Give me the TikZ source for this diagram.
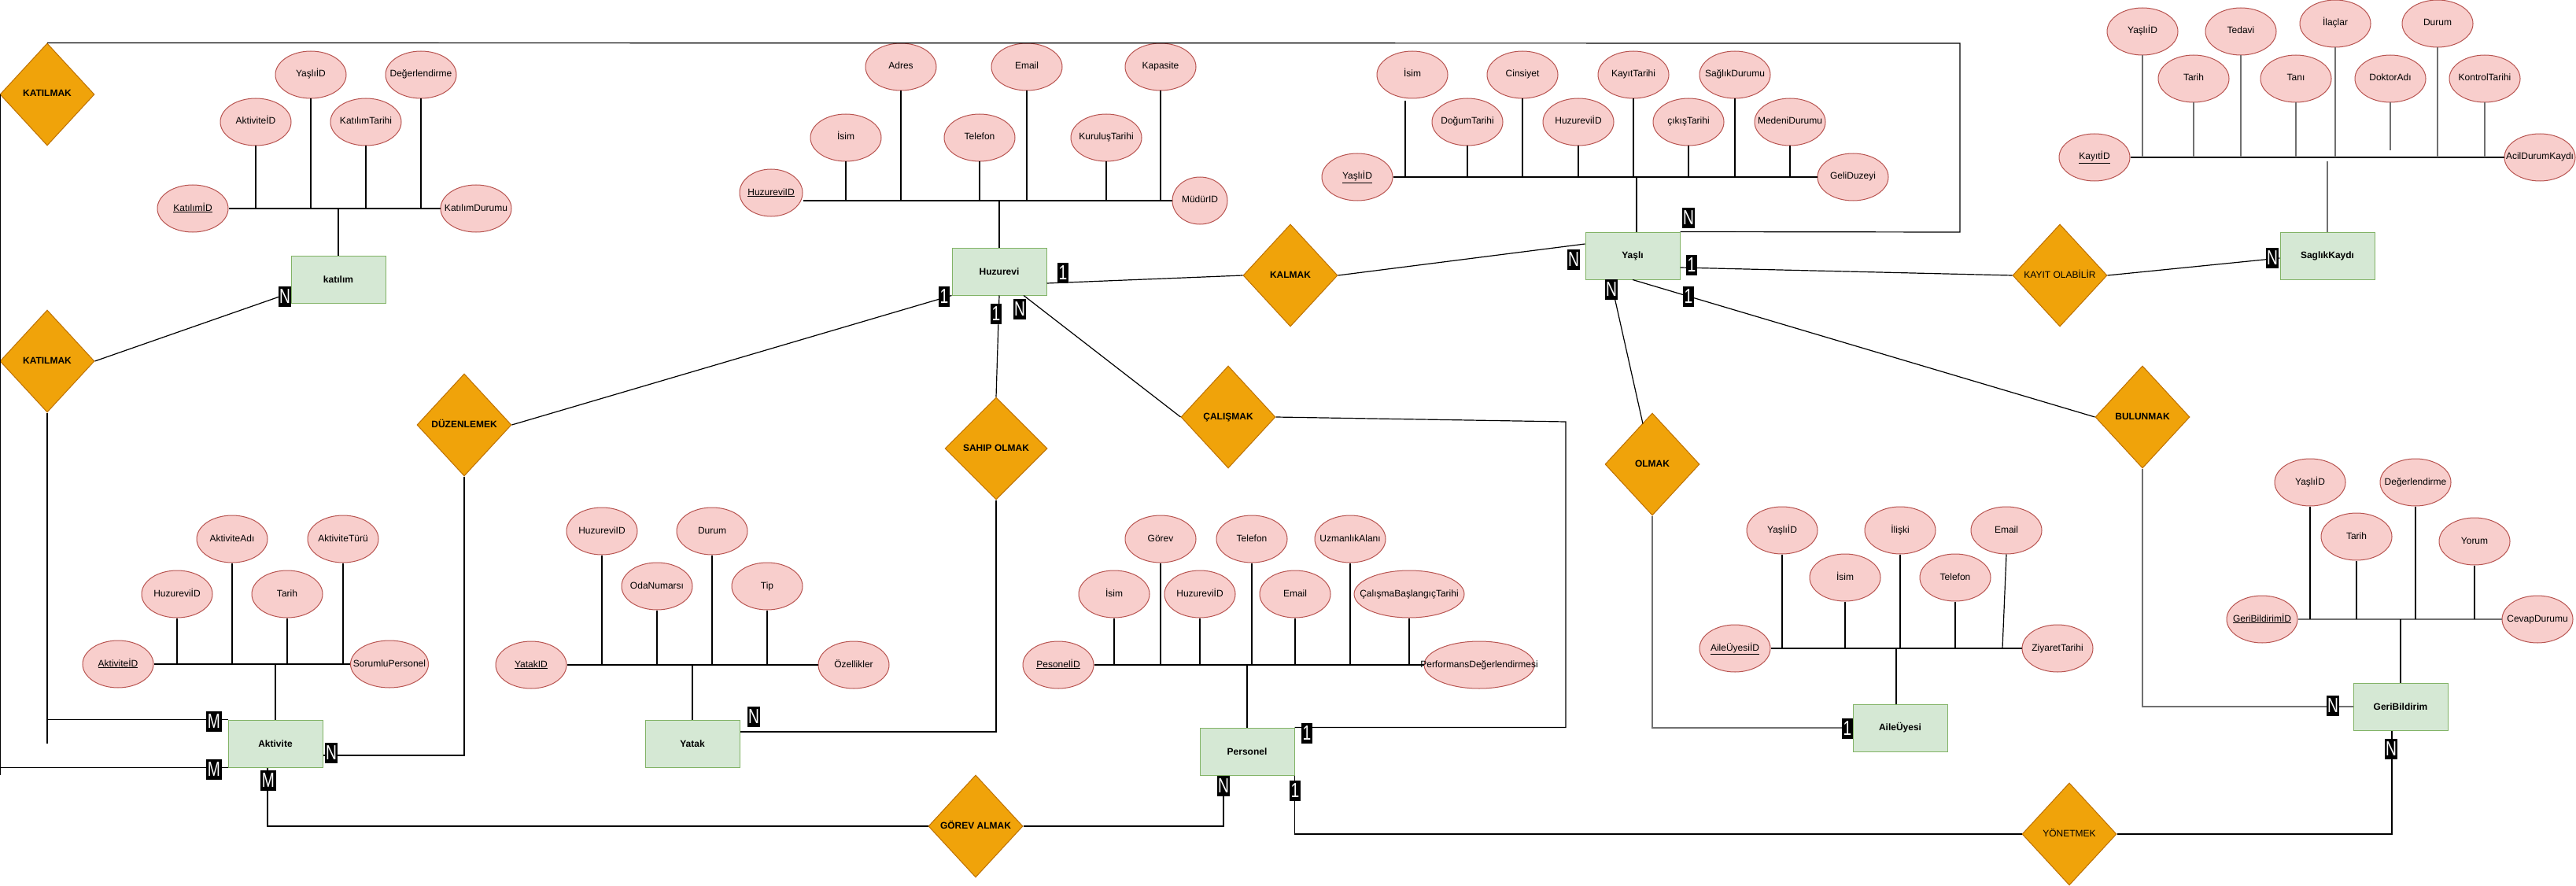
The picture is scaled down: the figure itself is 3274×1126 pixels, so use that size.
\documentclass[tikz,border=0pt]{standalone}
\usepackage{fontspec}
\setmainfont{Liberation Sans}
\usepackage{graphicx}
\usetikzlibrary{shapes.geometric,calc}
\definecolor{entF}{HTML}{D5E8D4}\definecolor{entB}{HTML}{82B366}
\definecolor{attF}{HTML}{F8CECC}\definecolor{attB}{HTML}{B85450}
\definecolor{relF}{HTML}{F0A30A}\definecolor{relB}{HTML}{BD7000}
\definecolor{lnGray}{HTML}{707070}
\newcommand{\attxt}[1]{\makebox[0pt]{#1}}
\newcommand{\cardtxt}[1]{\scalebox{0.74}[1]{#1}}
\tikzset{
  ent/.style={draw=entB, fill=entF, line width=1pt, minimum width=120pt, minimum height=60pt,
    inner sep=0pt, font=\bfseries\fontsize{12}{14}\selectfont},
  attr/.style={ellipse, draw=attB, fill=attF, line width=1pt, minimum width=90pt, minimum height=60pt,
    inner sep=0pt, font=\fontsize{12}{14}\selectfont, text height=8.5pt, text depth=2.5pt},
  rel/.style={diamond, draw=relB, fill=relF, line width=1pt, minimum width=120pt, minimum height=130pt,
    inner sep=0pt, font=\bfseries\fontsize{12}{14}\selectfont, text height=8.5pt, text depth=2.5pt},
  relplain/.style={rel, font=\fontsize{12}{14}\selectfont},
  card/.style={fill=black, text=white, inner xsep=1.5pt, inner ysep=4.5pt, font=\fontsize{26}{26}\selectfont},
  ln/.style={line width=1.2pt, black},
  lng/.style={line width=1.2pt, lnGray},
}
\begin{document}
\begin{tikzpicture}[x=1pt, y=-1pt]
\fill[white] (0,0) rectangle (3274,1126);
\useasboundingbox (0,0) rectangle (3274,1126);

% ---------- entities ----------
\node[ent] (katilim) at (430,355) {katılım};
\node[ent] (huz) at (1270,345) {Huzurevi};
\node[ent] (yasli) at (2075,325) {Yaşlı};
\node[ent] (saglik) at (2958,325) {SaglıkKaydı};
\node[ent] (akt) at (350,945) {Aktivite};
\node[ent] (yatak) at (880,945) {Yatak};
\node[ent] (pers) at (1585,955) {Personel};
\node[ent] (aile) at (2415,925) {AileÜyesi};
\node[ent] (geri) at (3051,898) {GeriBildirim};

% ---------- relationships ----------
\node[rel] (r_kat1) at (60,120) {\attxt{KATILMAK}};
\node[rel] (r_kat2) at (60,459) {\attxt{KATILMAK}};
\node[rel] (r_duz) at (590,540) {\attxt{DÜZENLEMEK}};
\node[rel, minimum width=130pt] (r_sahip) at (1266,570) {\attxt{SAHIP OLMAK}};
\node[rel] (r_kal) at (1640,350) {\attxt{KALMAK}};
\node[rel] (r_cal) at (1561,530) {\attxt{ÇALIŞMAK}};
\node[rel] (r_gor) at (1240,1050) {\attxt{GÖREV ALMAK}};
\node[rel] (r_olm) at (2100,590) {\attxt{OLMAK}};
\node[relplain] (r_kay) at (2618,350) {\attxt{KAYIT OLABİLİR}};
\node[rel] (r_bul) at (2723,530) {\attxt{BULUNMAK}};
\node[relplain] (r_yon) at (2630,1060) {\attxt{YÖNETMEK}};

% ---------- katılım attributes ----------
\node[attr] (k_id) at (245,265) {\attxt{\underline{KatılımİD}}};
\node[attr] (k_akt) at (325,155) {\attxt{AktiviteİD}};
\node[attr] (k_yas) at (395,95) {\attxt{YaşlıİD}};
\node[attr] (k_tar) at (465,155) {\attxt{KatılımTarihi}};
\node[attr] (k_deg) at (535,95) {\attxt{Değerlendirme}};
\node[attr] (k_dur) at (605,265) {\attxt{KatılımDurumu}};
\draw[ln] (k_id.east) -- (k_dur.west);
\foreach \a in {k_akt,k_yas,k_tar,k_deg} \draw[ln] (\a.south) -- (\a.south |- k_id.east);
\draw[ln] (katilim.north) -- (katilim.north |- k_id.east);

% ---------- Huzurevi attributes ----------
\node[attr, minimum width=80pt] (h_id) at (980,245) {\attxt{\underline{HuzureviID}}};
\node[attr] (h_isim) at (1075,175) {\attxt{İsim}};
\node[attr] (h_adres) at (1145,85) {\attxt{Adres}};
\node[attr] (h_tel) at (1245,175) {\attxt{Telefon}};
\node[attr] (h_email) at (1305,85) {\attxt{Email}};
\node[attr] (h_kur) at (1406,175) {\attxt{KuruluşTarihi}};
\node[attr] (h_kap) at (1475,85) {\attxt{Kapasite}};
\node[attr, minimum width=70pt] (h_mud) at (1525,255) {\attxt{MüdürID}};
\draw[ln] (h_id.east |- h_mud.west) -- (h_mud.west);
\foreach \a in {h_isim,h_adres,h_tel,h_email,h_kur,h_kap} \draw[ln] (\a.south) -- (\a.south |- h_mud.west);
\draw[ln] (huz.north) -- (huz.north |- h_mud.west);

% ---------- Yaşlı attributes ----------
\node[attr] (y_id) at (1725,225) {\attxt{\underline{YaşlıİD}}};
\node[attr] (y_isim) at (1795,95) {\attxt{İsim}};
\node[attr] (y_dog) at (1865,155) {\attxt{DoğumTarihi}};
\node[attr] (y_cins) at (1935,95) {\attxt{Cinsiyet}};
\node[attr] (y_huz) at (2006,155) {\attxt{HuzureviİD}};
\node[attr] (y_kay) at (2076,95) {\attxt{KayıtTarihi}};
\node[attr] (y_cik) at (2146,155) {\attxt{çıkışTarihi}};
\node[attr] (y_sag) at (2205,95) {\attxt{SağlıkDurumu}};
\node[attr] (y_med) at (2275,155) {\attxt{MedeniDurumu}};
\node[attr] (y_gel) at (2355,225) {\attxt{GeliDuzeyi}};
\draw[ln] (y_id.east) -- (y_gel.west);
\draw[ln] ($(y_isim.south)+(-9,3)$) -- ($(y_isim.south |- y_id.east)+(-9,0)$);
\foreach \a in {y_dog,y_cins,y_huz,y_kay,y_cik,y_sag,y_med} \draw[ln] (\a.south) -- (\a.south |- y_id.east);
\draw[ln] ($(yasli.north)+(5,0)$) -- ($(yasli.north |- y_id.east)+(5,0)$);

% ---------- SaglıkKaydı attributes ----------
\node[attr] (s_id) at (2662,200) {\attxt{\underline{KayıtİD}}};
\node[attr] (s_yas) at (2723,40) {\attxt{YaşlıİD}};
\node[attr] (s_tar) at (2788,100) {\attxt{Tarih}};
\node[attr] (s_ted) at (2848,40) {\attxt{Tedavi}};
\node[attr] (s_tani) at (2918,100) {\attxt{Tanı}};
\node[attr] (s_ilac) at (2968,30) {\attxt{İlaçlar}};
\node[attr] (s_dok) at (3038,100) {\attxt{DoktorAdı}};
\node[attr] (s_dur) at (3098,30) {\attxt{Durum}};
\node[attr] (s_kon) at (3158,100) {\attxt{KontrolTarihi}};
\node[attr] (s_acil) at (3228,200) {\attxt{AcilDurumKaydı}};
\draw[ln] (s_id.east) -- (s_acil.west);
\foreach \a in {s_yas,s_tar,s_ted,s_tani,s_ilac,s_dur,s_kon} \draw[lng] (\a.south) -- (\a.south |- s_id.east);
\draw[lng] (s_dok.south) -- ($(s_dok.south |- s_id.east)+(0,-9)$);
\draw[lng] ($(saglik.north |- s_id.east)+(0,5)$) -- (saglik.north);

% ---------- Aktivite attributes ----------
\node[attr] (a_id) at (150,844) {\attxt{\underline{AktiviteİD}}};
\node[attr] (a_huz) at (225,755) {\attxt{HuzureviİD}};
\node[attr] (a_adi) at (295,685) {\attxt{AktiviteAdı}};
\node[attr] (a_tar) at (365,755) {\attxt{Tarih}};
\node[attr] (a_tur) at (436,685) {\attxt{AktiviteTürü}};
\node[attr, minimum width=99pt] (a_sor) at (495,844) {\attxt{SorumluPersonel}};
\draw[ln] (a_id.east) -- (a_sor.west);
\foreach \a in {a_huz,a_adi,a_tar,a_tur} \draw[ln] (\a.south) -- (\a.south |- a_id.east);
\draw[ln] (akt.north) -- (akt.north |- a_id.east);

% ---------- Yatak attributes ----------
\node[attr] (t_id) at (675,845) {\attxt{\underline{YatakID}}};
\node[attr] (t_huz) at (765,675) {\attxt{HuzureviID}};
\node[attr] (t_oda) at (835,745) {\attxt{OdaNumarsı}};
\node[attr] (t_dur) at (905,675) {\attxt{Durum}};
\node[attr] (t_tip) at (975,745) {\attxt{Tip}};
\node[attr] (t_oz) at (1085,845) {\attxt{Özellikler}};
\draw[ln] (t_id.east) -- (t_oz.west);
\foreach \a in {t_huz,t_oda,t_dur,t_tip} \draw[ln] (\a.south) -- (\a.south |- t_id.east);
\draw[ln] (yatak.north) -- (yatak.north |- t_id.east);

% ---------- Personel attributes ----------
\node[attr] (p_id) at (1345,845) {\attxt{\underline{PesonelİD}}};
\node[attr] (p_isim) at (1416,755) {\attxt{İsim}};
\node[attr] (p_gor) at (1475,685) {\attxt{Görev}};
\node[attr] (p_huz) at (1525,755) {\attxt{HuzureviİD}};
\node[attr] (p_tel) at (1591,685) {\attxt{Telefon}};
\node[attr] (p_email) at (1646,755) {\attxt{Email}};
\node[attr] (p_uzm) at (1716,685) {\attxt{UzmanlıkAlanı}};
\node[attr, minimum width=140pt] (p_cal) at (1791,755) {\attxt{ÇalışmaBaşlangıçTarihi}};
\node[attr, minimum width=140pt] (p_perf) at (1880,845) {\attxt{PerformansDeğerlendirmesi}};
\draw[ln] (p_id.east) -- (p_perf.west);
\foreach \a in {p_isim,p_gor,p_huz,p_tel,p_email,p_uzm,p_cal} \draw[ln] (\a.south) -- (\a.south |- p_id.east);
\draw[ln] (pers.north) -- (pers.north |- p_id.east);

% ---------- AileÜyesi attributes ----------
\node[attr] (f_id) at (2205,824) {\attxt{\underline{AileÜyesiİD}}};
\node[attr] (f_yas) at (2265,674) {\attxt{YaşlıİD}};
\node[attr] (f_isim) at (2345,734) {\attxt{İsim}};
\node[attr] (f_ili) at (2415,674) {\attxt{İlişki}};
\node[attr] (f_tel) at (2485,734) {\attxt{Telefon}};
\node[attr] (f_email) at (2550,674) {\attxt{Email}};
\node[attr] (f_ziy) at (2615,824) {\attxt{ZiyaretTarihi}};
\draw[ln] (f_id.east) -- (f_ziy.west);
\foreach \a in {f_yas,f_isim,f_ili,f_tel} \draw[ln] (\a.south) -- (\a.south |- f_id.east);
\draw[ln] (f_email.south) -- ($(f_email.south |- f_id.east)+(-5,0)$);
\draw[ln] ($(aile.north)+(-5,0)$) -- ($(aile.north |- f_id.east)+(-5,0)$);

% ---------- GeriBildirim attributes ----------
\node[attr] (g_id) at (2875,787) {\attxt{\underline{GeriBildirimİD}}};
\node[attr] (g_yas) at (2936,613) {\attxt{YaşlıİD}};
\node[attr] (g_tar) at (2995,682) {\attxt{Tarih}};
\node[attr] (g_deg) at (3070,613) {\attxt{Değerlendirme}};
\node[attr] (g_yor) at (3145,688) {\attxt{Yorum}};
\node[attr] (g_cev) at (3225,787) {\attxt{CevapDurumu}};
\draw[lng] (g_id.east) -- (g_cev.west);
\foreach \a in {g_yas,g_tar,g_deg,g_yor} \draw[ln] (\a.south) -- (\a.south |- g_id.east);
\draw[ln] (geri.north) -- (geri.north |- g_id.east);

% ---------- relationship connectors ----------
\coordinate (fr1) at (2491,295);
\coordinate (fr2) at (2491,55);
\coordinate (calTurn) at (1990,536);
\draw[ln] (yasli.north east) -- (fr1) -- (fr2) -- (r_kat1.north);
\draw[ln] ($(r_kat1.west)+(1,0)$) -- ($(r_kat1.west |- akt.south west)+(1,9)$);
\draw[ln] ($(r_kat1.west |- akt.south west)+(1,0)$) -- (akt.south west);
\draw[ln] (r_kat2.south) -- (r_kat2.south |- akt.center);
\draw[ln] (r_kat2.south |- akt.north west) -- (akt.north west);
\draw[ln] (r_kat2.east) -- ([yshift=-17pt]katilim.west);
\draw[ln] ([yshift=-15pt]akt.east) -| (r_duz.south);
\draw[ln] (r_duz.east) -- (huz.south west);
\draw[ln] ([xshift=-10pt]akt.south) |- (r_gor.west);
\draw[ln] ([yshift=-15pt]huz.east) -- (r_kal.west);
\draw[ln] (r_kal.east) -- ([yshift=15pt]yasli.west);
\draw[ln] (huz.south) -- (r_sahip.north);
\draw[ln] ([xshift=31pt]huz.south) -- (r_cal.west);
\draw[ln] (r_sahip.south) |- ([yshift=15pt]yatak.east);
\draw[ln] (r_cal.east) -- (calTurn) |- (pers.north east);
\draw[ln] (r_gor.east) -| ([xshift=-30pt]pers.south);
\draw[ln] (pers.south east) |- (r_yon.west);
\draw[ln] (r_yon.east) -| ([xshift=-11pt]geri.south);
\draw[ln] (yasli.south) -- (r_bul.west);
\draw[lng] (r_bul.south) |- (geri.west);
\draw[ln] ([xshift=-28pt]yasli.south) -- ($(r_olm.north)+(-12,14)$);
\draw[lng] (r_olm.south) |- (aile.west);
\draw[ln] ([yshift=-15pt]yasli.east) -- (r_kay.west);
\draw[ln] (r_kay.east) -- ([yshift=-3pt]saglik.west);

% ---------- cardinalities ----------
\node[card] (c1) at (2146,277) {\cardtxt{N}};
\node[card] (c2) at (272,978) {\cardtxt{M}};
\node[card] (c3) at (272,917) {\cardtxt{M}};
\node[card] (c4) at (362,377) {\cardtxt{N}};
\node[card] (c5) at (421,957) {\cardtxt{N}};
\node[card] (c6) at (1200,377) {\cardtxt{1}};
\node[card] (c7) at (341,992) {\cardtxt{M}};
\node[card] (c8) at (1351,347) {\cardtxt{1}};
\node[card] (c9) at (2000,330) {\cardtxt{N}};
\node[card] (c10) at (1266,399) {\cardtxt{1}};
\node[card] (c11) at (1296,393) {\cardtxt{N}};
\node[card] (c12) at (958,911) {\cardtxt{N}};
\node[card] (c13) at (1661,932) {\cardtxt{1}};
\node[card] (c14) at (1555,999) {\cardtxt{N}};
\node[card] (c15) at (1646,1005) {\cardtxt{1}};
\node[card] (c16) at (3039,952) {\cardtxt{N}};
\node[card] (c17) at (2146,377) {\cardtxt{1}};
\node[card] (c18) at (2965,897) {\cardtxt{N}};
\node[card] (c19) at (2048,368) {\cardtxt{N}};
\node[card] (c20) at (2348,926) {\cardtxt{1}};
\node[card] (c21) at (2150,337) {\cardtxt{1}};
\node[card] (c22) at (2888,328) {\cardtxt{N}};
\end{tikzpicture}
\end{document}
